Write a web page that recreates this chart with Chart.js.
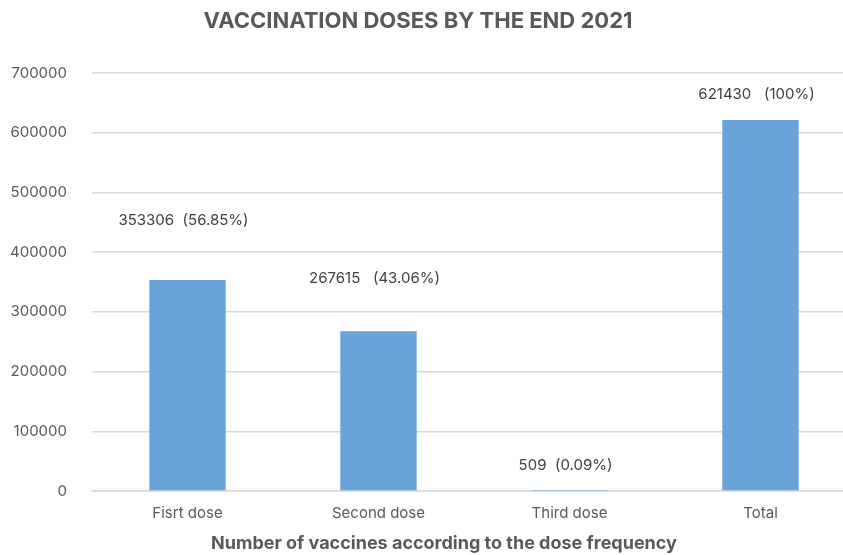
<!DOCTYPE html>
<html>
<head>
<meta charset="utf-8">
<script src="https://cdn.jsdelivr.net/npm/chart.js@4"></script>
<style>
  html, body { margin: 0; padding: 0; background: #fff; overflow: hidden; }
  #wrap { position: absolute; left: 0; top: 0; width: 870px; height: 555px; }
</style>
</head>
<body>
<div id="wrap"><canvas id="chart"></canvas></div>
<script>
// ── Vaccination doses bar chart ──

const categories = ['Fisrt dose', 'Second dose', 'Third dose', 'Total'];
const doses      = [353306, 267615, 509, 621430];
const shares     = ['56.85%', '43.06%', '0.09%', '100%'];
const yTicks     = [0, 100000, 200000, 300000, 400000, 500000, 600000, 700000];

// label text + how far above the bar top it sits
const labelText = doses.map((v, i) => `${v}${i === 1 || i === 3 ? '   ' : '  '}(${shares[i]})`);
const labelLift = [60, 53, 25, 25];

const TEXT = '#595959';
const GRID = '#d9d9d9';
const BAR  = '#68a4da';

// titles + value labels
const textPlugin = {
  id: 'texts',
  afterDatasetsDraw(chart) {
    const c = chart.ctx;
    const meta = chart.getDatasetMeta(0);
    c.save();
    c.textAlign = 'center';
    c.textBaseline = 'middle';
    c.fillStyle = '#404040';
    c.font = '15px Inter, sans-serif';
    meta.data.forEach((bar, i) => {
      c.fillText(labelText[i], bar.x - 4, bar.y - labelLift[i]);
    });

    c.fillStyle = TEXT;
    c.font = 'bold 22px Inter, sans-serif';
    c.fillText('VACCINATION DOSES BY THE END 2021', 418, 21);
    c.font = 'bold 18px Inter, sans-serif';
    c.fillText('Number of vaccines according to the dose frequency', 444, 544);
    c.restore();
  }
};

new Chart(document.getElementById('chart'), {
  type: 'bar',
  data: {
    labels: categories,
    datasets: [{
      data: doses,
      backgroundColor: BAR,
      borderWidth: 0,
      barPercentage: 0.4,
      categoryPercentage: 1.0
    }]
  },
  options: {
    responsive: true,
    maintainAspectRatio: false,
    animation: false,
    layout: { padding: { top: 73, left: 0, right: 14, bottom: 0 } },
    plugins: {
      legend: { display: false },
      tooltip: { enabled: false },
      title: { display: false }
    },
    scales: {
      y: {
        min: 0,
        max: 700000,
        afterFit: s => { s.width = 92; },
        afterBuildTicks: s => { s.ticks = yTicks.map(v => ({ value: v })); },
        border: { display: false },
        grid: { color: GRID, lineWidth: 1.5, drawTicks: false },
        ticks: {
          padding: 25,
          color: TEXT,
          font: { size: 15, family: 'Inter, sans-serif' },
          callback: v => String(v)
        }
      },
      x: {
        afterFit: s => { s.height = 64; },
        border: { display: true, color: GRID, width: 1.5 },
        grid: { display: false },
        ticks: {
          padding: 5,
          color: TEXT,
          font: { size: 15, family: 'Inter, sans-serif' }
        }
      }
    }
  },
  plugins: [textPlugin]
});
</script>
</body>
</html>
